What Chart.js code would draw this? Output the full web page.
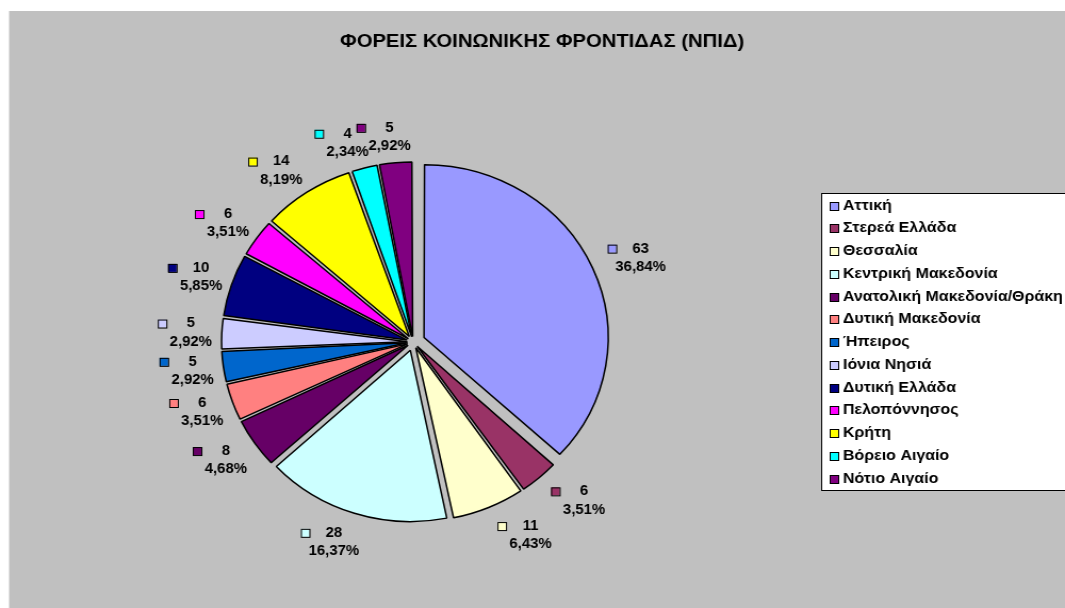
<!DOCTYPE html>
<html>
<head>
<meta charset="utf-8">
<script src="https://cdn.jsdelivr.net/npm/chart.js@4/dist/chart.umd.min.js"></script>
<style>
  html, body { margin: 0; padding: 0; background: #fff; overflow: hidden; }
  /* the original picture is stretched a little sideways, so is this one */
  #wrap { width: 1000px; height: 608px; transform: scaleX(1.065); transform-origin: 0 0; }
  canvas { display: block; }
</style>
</head>
<body>
<div id="wrap"><canvas id="chart" width="1000" height="608"></canvas></div>
<script>
const chartTitle = "ΦΟΡΕΙΣ ΚΟΙΝΩΝΙΚΗΣ ΦΡΟΝΤΙΔΑΣ (ΝΠΙΔ)";

const regions = [
  "Αττική",
  "Στερεά Ελλάδα",
  "Θεσσαλία",
  "Κεντρική Μακεδονία",
  "Ανατολική Μακεδονία/Θράκη",
  "Δυτική Μακεδονία",
  "Ήπειρος",
  "Ιόνια Νησιά",
  "Δυτική Ελλάδα",
  "Πελοπόννησος",
  "Κρήτη",
  "Βόρειο Αιγαίο",
  "Νότιο Αιγαίο",
];

const counts = [63, 6, 11, 28, 8, 6, 5, 5, 10, 6, 14, 4, 5];

const sliceColors = [
  "#9999FF", "#993366", "#FFFFCC", "#CCFFFF", "#660066", "#FF8080", "#0066CC",
  "#CCCCFF", "#000080", "#FF00FF", "#FFFF00", "#00FFFF", "#800080",
];

const FONT = '"Liberation Sans", Arial, sans-serif';
const total = counts.reduce((a, b) => a + b, 0);
const pctText = (v) => ((v / total) * 100).toFixed(2).replace(".", ",") + "%";

// how far each slice is pulled out, in px
const explodePx = (i) => (i === 0 ? 14 : 10);
// chart.js v4 arcs move by offset/4 * (2 - sin(angle)), so undo that
function arcOffset(c) {
  const ang = (c.dataset.data[c.dataIndex] / total) * Math.PI * 2;
  return explodePx(c.dataIndex) / (0.25 * (2 - Math.sin(Math.min(Math.PI, ang))));
}

// grey plot background with the thin white margin top/left, plus the title
const backdrop = {
  id: "backdrop",
  beforeDraw(chart) {
    const ctx = chart.ctx;
    ctx.save();
    ctx.fillStyle = "#ffffff";
    ctx.fillRect(0, 0, chart.width, chart.height);
    ctx.fillStyle = "#c0c0c0";
    ctx.fillRect(8.5, 11, chart.width, chart.height);
    ctx.fillStyle = "#000";
    ctx.font = `bold 19px ${FONT}`;
    ctx.textAlign = "center";
    ctx.textBaseline = "middle";
    ctx.fillText(chartTitle, 509, 42);
    ctx.restore();
  },
};

// value + percentage beside each slice, with a small colour key
const sliceLabels = {
  id: "sliceLabels",
  afterDatasetsDraw(chart) {
    const ctx = chart.ctx;
    const ds = chart.data.datasets[0];
    ctx.save();
    ctx.font = `bold 14px ${FONT}`;
    ctx.textAlign = "center";
    ctx.textBaseline = "middle";
    chart.getDatasetMeta(0).data.forEach((arc, i) => {
      const { x, y, startAngle, endAngle, outerRadius } = arc.getProps(
        ["x", "y", "startAngle", "endAngle", "outerRadius"], true);
      const mid = (startAngle + endAngle) / 2;
      const dx = Math.cos(mid), dy = Math.sin(mid);
      const r = outerRadius + explodePx(i) + 11;
      // label box hangs off the anchor point: key on the left edge when on the right side
      const sx = Math.min(1, Math.abs(dx) / 0.35);
      const tx = x + dx * r + (dx >= 0 ? 35 * sx : -18 * sx);
      const ty = y + dy * r + dy * (dy < 0 ? 15 : 19);

      ctx.fillStyle = ds.backgroundColor[i];
      ctx.fillRect(tx - 31, ty - 13, 8, 8);
      ctx.strokeStyle = "#000";
      ctx.lineWidth = 1;
      ctx.strokeRect(tx - 31 + 0.5, ty - 13 + 0.5, 8, 8);

      ctx.fillStyle = "#000";
      ctx.fillText(String(ds.data[i]), tx, ty - 9);
      ctx.fillText(pctText(ds.data[i]), tx, ty + 9.5);
    });
    ctx.restore();
  },
};

// legend box on the right, runs off the edge like the original
const sideLegend = {
  id: "sideLegend",
  afterDraw(chart) {
    const ctx = chart.ctx;
    const ds = chart.data.datasets[0];
    ctx.save();
    ctx.fillStyle = "#fff";
    ctx.fillRect(771.5, 193.5, 300, 297);
    ctx.strokeStyle = "#000";
    ctx.lineWidth = 1;
    ctx.strokeRect(771.5, 193.5, 300, 297);
    ctx.font = `bold 15px ${FONT}`;
    ctx.textAlign = "left";
    ctx.textBaseline = "middle";
    chart.data.labels.forEach((lab, i) => {
      const yy = 205.5 + i * 22.75;
      ctx.fillStyle = ds.backgroundColor[i];
      ctx.fillRect(779.5, Math.round(yy - 4) + 0.5, 8, 8);
      ctx.strokeStyle = "#000";
      ctx.strokeRect(779.5, Math.round(yy - 4) + 0.5, 8, 8);
      ctx.fillStyle = "#000";
      ctx.fillText(lab, 791.5, yy);
    });
    ctx.restore();
  },
};

const maxOff = Math.max(...counts.map((v, i) =>
  arcOffset({ dataset: { data: counts }, dataIndex: i })));
const BORDER = 1.5;
const RADIUS = 170;
const CY = 342;
const areaH = 2 * RADIUS + BORDER + maxOff;
const padTop = CY - areaH / 2;

new Chart(document.getElementById("chart"), {
  type: "pie",
  data: {
    labels: regions,
    datasets: [
      {
        data: counts,
        backgroundColor: sliceColors,
        borderColor: "#000",
        borderWidth: BORDER,
        hoverBorderWidth: BORDER,
        hoverOffset: 0,
        offset: arcOffset,
      },
    ],
  },
  options: {
    responsive: false,
    devicePixelRatio: 1,
    animation: false,
    events: [],
    layout: { padding: { left: 188, right: 412, top: padTop, bottom: 608 - padTop - areaH } },
    plugins: {
      legend: { display: false },
      title: { display: false },
      tooltip: { enabled: false },
    },
  },
  plugins: [backdrop, sliceLabels, sideLegend],
});
</script>
</body>
</html>
